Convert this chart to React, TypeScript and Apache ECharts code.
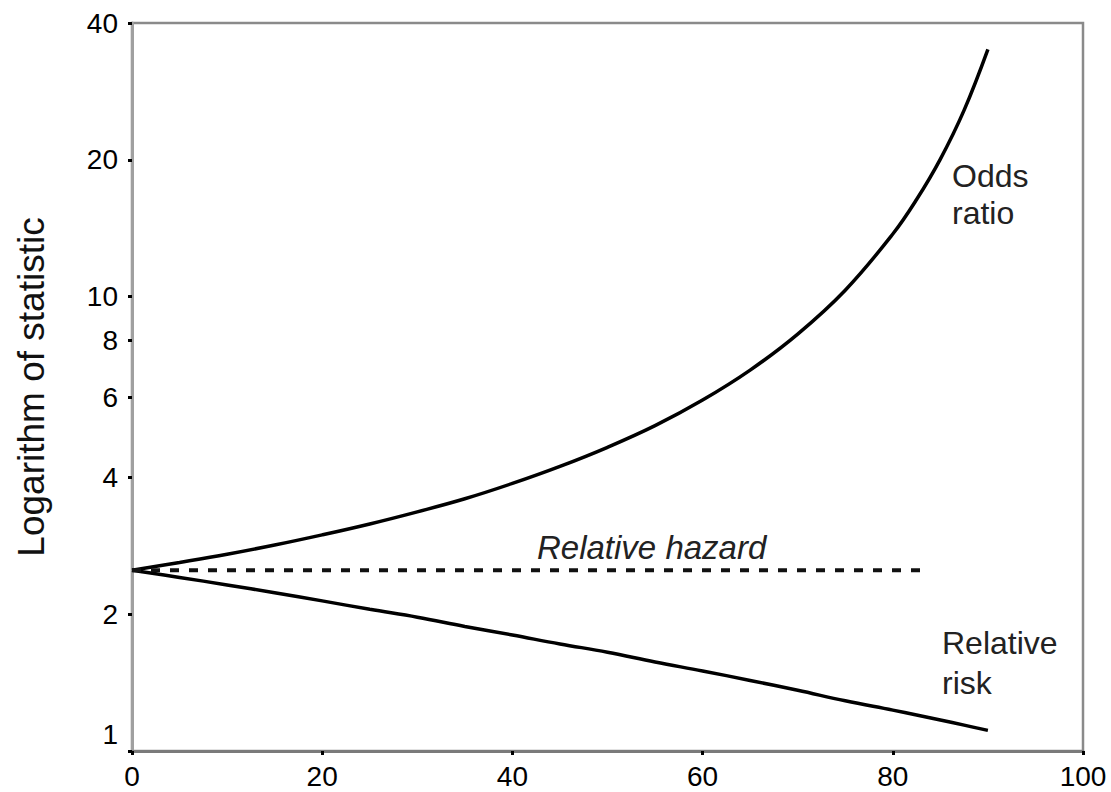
import React, { useEffect, useRef } from "react";
import * as echarts from "echarts";

// Baseline risk (x, %) and the three statistics
const xValues = [0, 5, 10, 15, 20, 25, 30, 35, 40, 45, 50, 55, 60, 65, 70, 75, 80, 82.5, 85, 87.5, 90];
const oddsRatio = [2.5, 2.6, 2.71, 2.84, 2.99, 3.16, 3.36, 3.59, 3.88, 4.23, 4.66, 5.2, 5.92, 6.89, 8.27, 10.33, 13.73, 16.35, 20.07, 25.72, 35.0];
const relativeRisk = [2.5, 2.41, 2.32, 2.23, 2.14, 2.05, 1.97, 1.88, 1.8, 1.72, 1.65, 1.57, 1.5, 1.43, 1.36, 1.29, 1.23, 1.2, 1.17, 1.14, 1.11];
const hazardX = [0, 83.5];
const hazardY = [2.5, 2.5];

const yTickLabels = [1, 2, 4, 6, 8, 10, 20, 40];
const xTicks = { min: 0, max: 100, interval: 20 };
const yTitle = "Logarithm of statistic";

const FONT = "'Liberation Sans', Arial, sans-serif";
const lg = (v: number) => Math.log10(v);

export default function App() {
  const ref = useRef<HTMLDivElement>(null);
  useEffect(() => {
    if (!ref.current) return;
    const chart = echarts.init(ref.current, null, { renderer: "svg" });
    const yCustom = yTickLabels.map(lg);
    const lineStyleSolid = { color: "#000", width: 3.5 };
    chart.setOption({
      animation: false,
      backgroundColor: "#fff",
      grid: {
        left: 132,
        right: 28,
        top: 23,
        bottom: 41,
        show: true,
        borderColor: "#8a8a8a",
        borderWidth: 2.5,
      },
      xAxis: {
        type: "value",
        min: xTicks.min,
        max: xTicks.max,
        interval: xTicks.interval,
        splitLine: { show: false },
        axisLine: { lineStyle: { color: "#7a7a7a", width: 3 } },
        axisTick: { length: 4, lineStyle: { color: "#000", width: 3 } },
        axisLabel: { fontSize: 28, color: "#000", fontFamily: FONT, margin: 11 },
      },
      yAxis: {
        type: "value",
        min: 0,
        max: lg(40),
        splitLine: { show: false },
        axisLine: { show: true, lineStyle: { color: "#a0a0a0", width: 3 } },
        axisTick: { show: true, length: 4, customValues: yCustom, lineStyle: { color: "#000", width: 3 } },
        axisLabel: {
          customValues: yCustom,
          fontSize: 28,
          color: "#000",
          fontFamily: FONT,
          margin: 14,
          formatter: (v: number) => {
            const n = Math.round(Math.pow(10, v));
            return n === 1 ? "{one|1}" : String(n);
          },
          rich: {
            one: { fontSize: 28, color: "#000", fontFamily: FONT, padding: [0, 0, 34, 0] },
          },
        },
        name: yTitle,
        nameLocation: "middle",
        nameGap: 82,
        nameTextStyle: { fontSize: 37, color: "#111", fontFamily: FONT },
      },
      series: [
        {
          name: "Odds ratio",
          type: "line",
          data: xValues.map((x, i) => [x, lg(oddsRatio[i])]),
          showSymbol: false,
          smooth: 0.4,
          lineStyle: lineStyleSolid,
        },
        {
          name: "Relative risk",
          type: "line",
          data: xValues.map((x, i) => [x, lg(relativeRisk[i])]),
          showSymbol: false,
          smooth: 0.4,
          lineStyle: lineStyleSolid,
        },
        {
          name: "Relative hazard",
          type: "line",
          data: hazardX.map((x, i) => [x, lg(hazardY[i])]),
          showSymbol: false,
          lineStyle: { color: "#111", width: 4, type: [9, 10] },
        },
      ],
      graphic: [
        {
          type: "text",
          left: 952,
          top: 157,
          style: { text: "Odds\nratio", fontSize: 32, lineHeight: 37, fill: "#222", fontFamily: FONT },
        },
        {
          type: "text",
          left: 537,
          top: 531,
          style: { text: "Relative hazard", fontSize: 33, fontStyle: "italic", fill: "#222", fontFamily: FONT },
        },
        {
          type: "text",
          left: 942,
          top: 623,
          style: { text: "Relative\nrisk", fontSize: 32, lineHeight: 40, fill: "#222", fontFamily: FONT },
        },
      ],
    });
    return () => chart.dispose();
  }, []);
  return (
    <div
      ref={ref}
      style={{ position: "absolute", left: 0, top: 0, width: 1111, height: 792 }}
    />
  );
}
